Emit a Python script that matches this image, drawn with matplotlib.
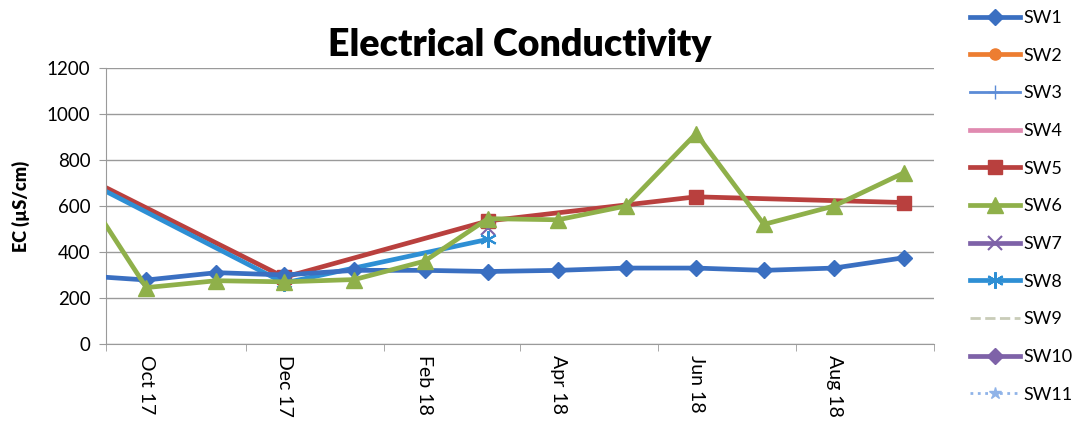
import matplotlib.pyplot as plt
import pandas as pd

# monthly sampling dates; the first visit falls just before the axis start
dates_monthly = pd.to_datetime([
    '2017-09-01', '2017-10-01', '2017-11-01', '2017-12-01', '2018-01-01',
    '2018-02-01', '2018-03-01', '2018-04-01', '2018-05-01', '2018-06-01',
    '2018-07-01', '2018-08-01', '2018-09-01'])
dates_quarterly = pd.to_datetime(['2017-09-01', '2017-12-01', '2018-03-01',
                                  '2018-06-01', '2018-09-01'])

sw1 = [298, 278, 310, 300, 320, 320, 315, 320, 330, 330, 320, 330, 375]
sw6 = [700, 245, 275, 270, 280, 360, 545, 540, 600, 915, 520, 600, 745]
sw5 = [740, 290, 535, 640, 615]
sw8 = [725, 265, 455]
sw7_date = pd.to_datetime(['2018-03-01'])
sw7 = [505]

tick_label_dates = pd.to_datetime(['2017-10-01', '2017-12-01', '2018-02-01',
                                   '2018-04-01', '2018-06-01', '2018-08-01'])
tick_labels = ['Oct 17', 'Dec 17', 'Feb 18', 'Apr 18', 'Jun 18', 'Aug 18']
tick_mark_dates = pd.to_datetime(['2017-09-13', '2017-11-14', '2018-01-14',
                                  '2018-03-15', '2018-05-15', '2018-07-15',
                                  '2018-09-14'])

plt.rcParams['font.family'] = ['Lato', 'DejaVu Sans']

fig = plt.figure(figsize=(10.78, 4.23), dpi=100)
ax = fig.add_axes([0.098, 0.187, 0.768, 0.652])

lw = 3.4
ax.plot(dates_monthly, sw1, color='#3A6FC1', lw=lw, marker='D', ms=8.5, label='SW1', zorder=3)
ax.plot([], [], color='#ED7D31', lw=lw, marker='o', ms=8, label='SW2')
ax.plot([], [], color='#5B8BD6', lw=2, marker='+', ms=10, label='SW3')
ax.plot([], [], color='#E08AB0', lw=lw, label='SW4')
ax.plot(dates_quarterly, sw5, color='#B9403E', lw=lw, marker='s', ms=10, label='SW5', zorder=2)
ax.plot(dates_monthly, sw6, color='#8FB04A', lw=lw, marker='^', ms=11, label='SW6', zorder=4)
ax.plot(sw7_date, sw7, color='#7E62A8', lw=lw, marker='x', ms=10, mew=1.5, label='SW7', zorder=2)
ax.plot(dates_quarterly[:3], sw8, color='#2E8FD4', lw=lw, marker=(6, 2, 0), ms=12, mew=1.5, label='SW8', zorder=2)
ax.plot([], [], color='#C9CCB8', lw=2, ls='--', label='SW9')
ax.plot([], [], color='#7E62A8', lw=lw, marker='D', ms=8, label='SW10')
ax.plot([], [], color='#8FB3E8', lw=2, ls=':', marker='*', ms=9, label='SW11')

ax.set_ylim(0, 1200)
ax.set_yticks(range(0, 1201, 200))
ax.set_xlim(pd.Timestamp('2017-09-13'), pd.Timestamp('2018-09-14'))
ax.grid(axis='y', color='#9A9A9A', lw=1)
ax.set_axisbelow(True)
for s in ['top', 'right']:
    ax.spines[s].set_visible(False)
ax.spines['left'].set_color('#9A9A9A')
ax.spines['bottom'].set_color('#9A9A9A')

ax.set_xticks(tick_label_dates)
ax.set_xticklabels(tick_labels, rotation=-90, fontsize=14)
ax.tick_params(axis='x', length=0, pad=8)
ax.set_xticks(tick_mark_dates, minor=True)
ax.tick_params(axis='x', which='minor', length=5, color='#9A9A9A')
ax.tick_params(axis='y', labelsize=13.5, length=5, color='#9A9A9A', pad=6)

ax.set_ylabel('EC (µS/cm)', fontsize=13, fontweight='heavy', labelpad=12)
ax.set_title('Electrical Conductivity', fontsize=27, fontweight='heavy', pad=9)

ax.legend(loc='upper left', bbox_to_anchor=(1.024, 1.27), frameon=False,
          fontsize=13, handlelength=2.8, handletextpad=0.2, labelspacing=1.2)

fig.savefig('out.png', dpi=100)
